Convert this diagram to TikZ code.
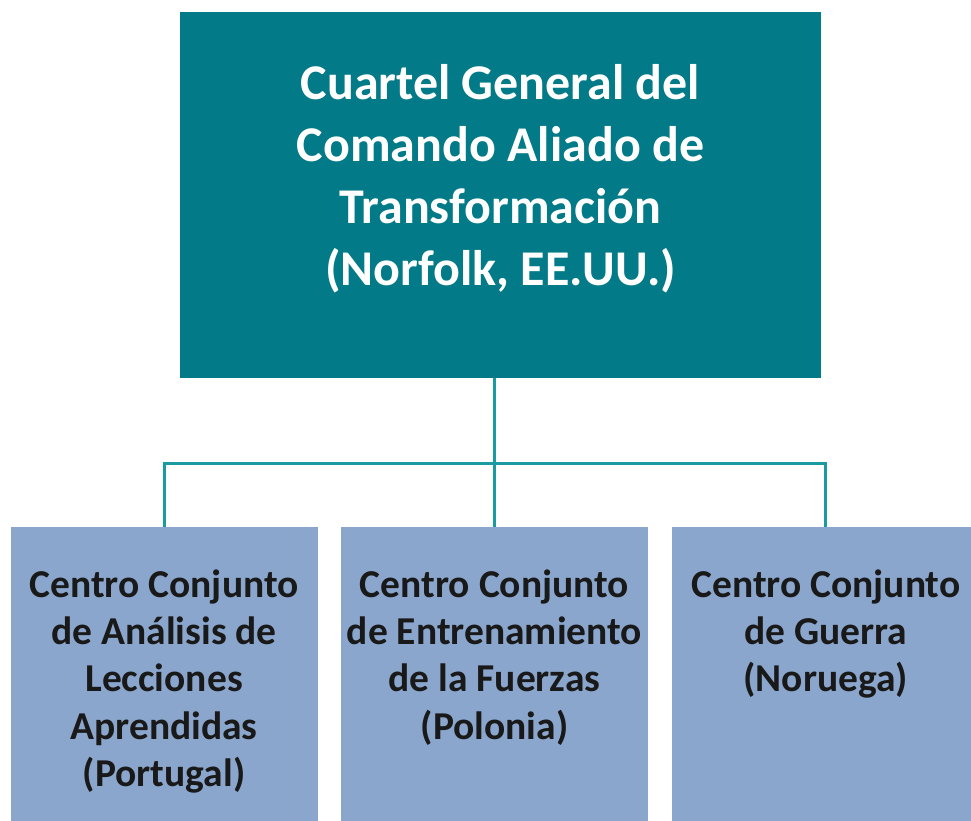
\documentclass[tikz,border=0pt]{standalone}
\usepackage{fontspec}
\setmainfont{Carlito}
\usetikzlibrary{positioning}
\definecolor{hqteal}{HTML}{027A87}
\definecolor{lineteal}{HTML}{1A9BA1}
\definecolor{centreblue}{HTML}{8AA6CC}
\newcommand{\hqbox}[1]{\parbox[t][366pt][t]{641pt}{\centering\vspace*{52pt}#1}}
\newcommand{\centrebox}[1]{\parbox[t][294pt][t]{307pt}{\centering\vspace*{42pt}#1}}

\begin{document}
\begin{tikzpicture}[
    hqnode/.style={rectangle, fill=hqteal, text=white, font=\bfseries\fontsize{50pt}{62pt}\selectfont, inner sep=0pt},
    centrenode/.style={rectangle, fill=centreblue, text=black!90, font=\bfseries\fontsize{39.5pt}{47.3pt}\selectfont, inner sep=0pt},
    node distance=149pt and 23pt
    ]
    \clip (0,0) rectangle (971pt,-821pt);
    %Nodes
    \node[hqnode] (HQ) at (500.5pt,-195pt) {\hqbox{Cuartel General del\\Comando Aliado de\\Transformación\\(Norfolk, EE.UU.)}};

    \node[centrenode] (JFTC) [below=of HQ, xshift=-6pt] {\centrebox{Centro Conjunto\\de Entrenamiento\\de la Fuerzas\\(Polonia)}};
    \node[centrenode] (JALLC) [left=of JFTC] {\centrebox{Centro Conjunto\\de Análisis de\\Lecciones\\Aprendidas\\(Portugal)}};
    \node[centrenode] (JWC) [right=24pt of JFTC] {\centrebox{Centro Conjunto\\de Guerra\\(Noruega)}};

    \coordinate (bar) at ([yshift=64pt]JFTC.north);

    %Lines
    \draw[-, lineteal, line width=3pt] (HQ.south -| JFTC.north) -- (JFTC.north);
    \draw[-, lineteal, line width=3pt] (JALLC.north) |- (bar) -| (JWC.north);
\end{tikzpicture}
\end{document}
